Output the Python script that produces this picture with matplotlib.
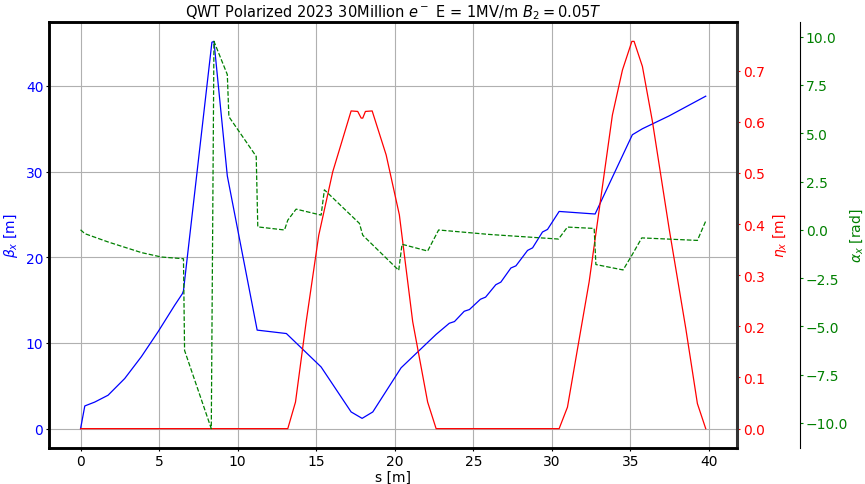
import matplotlib
matplotlib.use("Agg")
import matplotlib.pyplot as plt

# beta_x [m]
s_beta = [0.0, 0.27, 0.9, 1.75, 2.81, 3.87, 4.93, 5.99, 6.48, 6.55, 8.36, 8.49, 9.34,
          11.24, 13.1, 15.31, 17.22, 17.92, 18.6, 20.4, 22.63, 23.47, 23.8, 24.42, 24.75,
          25.45, 25.78, 26.43, 26.75, 27.39, 27.71, 28.45, 28.77, 29.4, 29.72, 30.46,
          32.75, 35.12, 35.76, 37.46, 39.79]
beta_x = [0.0, 2.65, 3.1, 3.9, 5.85, 8.4, 11.3, 14.4, 15.75, 16.1, 45.1, 45.2, 29.5,
          11.5, 11.1, 7.2, 1.95, 1.2, 1.95, 7.1, 11.0, 12.3, 12.5, 13.7, 13.9,
          15.1, 15.35, 16.8, 17.1, 18.75, 19.0, 20.8, 21.1, 22.95, 23.25, 25.35,
          25.05, 34.3, 35.0, 36.5, 38.8]

# eta_x [m]
s_eta = [0.0, 13.19, 13.68, 14.36, 15.16, 16.05, 17.22, 17.64, 17.86, 17.96, 18.13,
         18.56, 19.45, 20.29, 21.14, 22.09, 22.63, 30.46, 30.99, 31.63, 32.37, 33.11,
         33.85, 34.49, 35.09, 35.23, 35.76, 36.4, 37.46, 38.52, 39.26, 39.79]
eta_x = [0.0, 0.0, 0.052, 0.209, 0.378, 0.502, 0.621, 0.620, 0.607, 0.607, 0.620,
         0.621, 0.535, 0.418, 0.209, 0.052, 0.0, 0.0, 0.042, 0.156, 0.287, 0.45,
         0.613, 0.701, 0.757, 0.757, 0.708, 0.600, 0.391, 0.196, 0.049, 0.0]

# alpha_x [rad]
s_alpha = [0.0, 0.27, 1.75, 3.87, 5.14, 6.41, 6.55, 6.62, 8.32, 8.49, 9.34, 9.44,
           11.18, 11.28, 12.98, 13.19, 13.72, 15.31, 15.52, 17.75, 17.96, 20.25, 20.46,
           22.09, 22.79, 26.0, 30.42, 30.99, 32.69, 32.8, 34.53, 35.09, 35.72, 39.26, 39.79]
alpha_x = [0.0, -0.2, -0.63, -1.18, -1.41, -1.49, -1.5, -6.25, -10.3, 9.76, 8.04, 5.86,
           3.8, 0.15, -0.01, 0.5, 1.07, 0.76, 2.07, 0.33, -0.28, -2.1, -0.75,
           -1.1, -0.01, -0.24, -0.48, 0.14, 0.07, -1.8, -2.08, -1.32, -0.42, -0.55, 0.45]

title = r'QWT Polarized 2023 30Million $e^-$ E = 1MV/m $B_2 = 0.05T$'

fig = plt.figure(figsize=(8.65, 4.85), dpi=100)
ax = fig.add_axes([0.057, 0.0742, 0.795, 0.8784])
ax2 = ax.twinx()
ax3 = ax.twinx()
ax3.spines['right'].set_position(('axes', 1.092))

fs = 10
ax.plot(s_beta, beta_x, color='blue', lw=0.9)
ax2.plot(s_eta, eta_x, color='red', lw=0.9)
ax3.plot(s_alpha, alpha_x, color='green', lw=0.9, ls='--')

ax.grid(True, color='#b0b0b0', lw=0.8)
ax.set_xlabel('s [m]', fontsize=fs, labelpad=1)
ax.set_ylabel(r'$\beta_x$ [m]', color='blue', fontsize=fs, labelpad=4)
ax2.set_ylabel(r'$\eta_x$ [m]', color='red', fontsize=fs, labelpad=4)
ax3.set_ylabel(r'$\alpha_x$ [rad]', color='green', fontsize=fs, labelpad=0)
ax.set_title(title, fontsize=10.5, pad=4)

tl, tp = 2.5, 1.8
ax.tick_params(axis='x', labelsize=fs, length=tl, pad=tp)
ax.tick_params(axis='y', labelcolor='blue', labelsize=fs, length=tl, pad=tp)
ax2.tick_params(axis='y', colors='red', labelsize=fs, length=tl, pad=tp)
ax3.tick_params(axis='y', colors='green', labelsize=fs, length=tl, pad=1.5)

for a in (ax, ax2):
    for sp in ('left', 'bottom', 'top'):
        a.spines[sp].set_linewidth(1.8)
ax2.spines['right'].set_linewidth(2.2)
ax2.spines['right'].set_color('#333333')
ax.spines['right'].set_visible(False)

fig.savefig('out.png', dpi=100)
